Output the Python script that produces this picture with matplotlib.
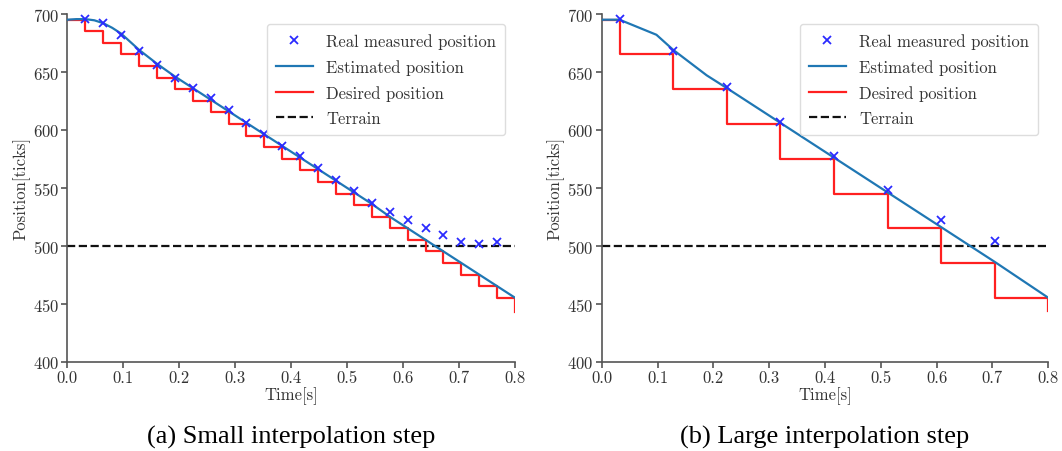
import matplotlib.pyplot as plt

plt.rcParams['font.family'] = ['cmr10', 'DejaVu Serif']
plt.rcParams['axes.formatter.use_mathtext'] = True
plt.rcParams['mathtext.fontset'] = 'cm'

# (a) small interpolation step
small_meas_t = [0.032, 0.064, 0.096, 0.128, 0.160, 0.192, 0.224, 0.256, 0.288, 0.320, 0.352, 0.384,
                0.416, 0.448, 0.480, 0.512, 0.544, 0.576, 0.608, 0.640, 0.672, 0.704, 0.736, 0.768]
small_meas_pos = [696, 692, 682, 668, 656, 645, 636, 627, 617, 606, 596, 586,
                  577, 567, 557, 547, 537, 529, 522, 515, 509, 503, 501, 503]
small_est_t = [0.0, 0.016, 0.032, 0.048, 0.064, 0.080, 0.096, 0.112, 0.128, 0.160, 0.192, 0.224, 0.256,
               0.288, 0.320, 0.352, 0.384, 0.416, 0.448, 0.480, 0.512, 0.544, 0.576, 0.608,
               0.640, 0.672, 0.704, 0.736, 0.768, 0.800]
small_est_pos = [695, 695.5, 695.5, 694.5, 692, 688, 683, 676, 669, 657, 646, 636, 626,
                 616, 606, 596, 586, 576, 566, 556, 546, 536, 525, 515,
                 505, 495, 485, 475, 465, 455]
small_des_t = [0.0, 0.032, 0.064, 0.096, 0.128, 0.160, 0.192, 0.224, 0.256, 0.288, 0.320, 0.352, 0.384,
               0.416, 0.448, 0.480, 0.512, 0.544, 0.576, 0.608, 0.640, 0.672, 0.704, 0.736, 0.768, 0.800]
small_des_pos = [695, 685, 675, 665, 655, 645, 635, 625, 615, 605, 595, 585, 575,
                 565, 555, 545, 535, 525, 515, 505, 495, 485, 475, 465, 455, 443]

# (b) large interpolation step
large_meas_t = [0.032, 0.128, 0.224, 0.320, 0.416, 0.512, 0.608, 0.704]
large_meas_pos = [696, 668, 637, 607, 577, 548, 522, 504]
large_est_t = [0.0, 0.032, 0.098, 0.128, 0.188, 0.224, 0.320, 0.416, 0.512, 0.608, 0.704, 0.800]
large_est_pos = [695, 695, 682, 669, 647, 636, 606, 576, 546, 516, 486, 455]
large_des_t = [0.0, 0.032, 0.128, 0.224, 0.320, 0.416, 0.512, 0.608, 0.704, 0.800]
large_des_pos = [695, 665, 635, 605, 575, 545, 515, 485, 455, 444]

terrain = 500

fig = plt.figure(figsize=(10.62, 4.52), dpi=100)
ax1 = fig.add_axes([0.0635, 0.198, 0.4215, 0.769])
ax2 = fig.add_axes([0.5666, 0.198, 0.4205, 0.769])

panels = [
    (ax1, small_meas_t, small_meas_pos, small_est_t, small_est_pos, small_des_t, small_des_pos,
     '(a) Small interpolation step'),
    (ax2, large_meas_t, large_meas_pos, large_est_t, large_est_pos, large_des_t, large_des_pos,
     '(b) Large interpolation step'),
]

for ax, mt, mp, et, ep, dt, dp, caption in panels:
    ax.plot(mt, mp, 'x', color='#2a2aff', markersize=6, mew=1.3, label='Real measured position', zorder=4)
    ax.plot(et, ep, '-', color='#1f77b4', lw=1.6, label='Estimated position', zorder=3)
    ax.step(dt, dp, where='post', color='#ff2020', lw=1.6, label='Desired position', zorder=2)
    ax.axhline(terrain, xmin=0, xmax=1, color='#111111', ls='--', lw=1.6, label='Terrain', zorder=1)
    ax.set_xlim(0, 0.8)
    ax.set_ylim(400, 700)
    ax.set_xticks([0.0, 0.1, 0.2, 0.3, 0.4, 0.5, 0.6, 0.7, 0.8])
    ax.set_yticks([400, 450, 500, 550, 600, 650, 700])
    ax.set_xticklabels(['0.0', '0.1', '0.2', '0.3', '0.4', '0.5', '0.6', '0.7', '0.8'])
    for s in ['top', 'right']:
        ax.spines[s].set_visible(False)
    for s in ['left', 'bottom']:
        ax.spines[s].set_color('#555555')
        ax.spines[s].set_linewidth(1.2)
    ax.tick_params(colors='#555555', labelcolor='#333333', labelsize=12, length=4, width=1.2, pad=2)
    ax.set_xlabel('Time[s]', fontsize=12, color='#333333', labelpad=1)
    ax.set_ylabel('Position[ticks]', fontsize=12, color='#333333', labelpad=2)
    leg = ax.legend(loc='upper right', fontsize=12, handlelength=2.2, labelspacing=0.6,
                    borderpad=0.55, framealpha=1, edgecolor='#dddddd', fancybox=True,
                    borderaxespad=0.6)
    for t in leg.get_texts():
        t.set_color('#333333')
    ax.text(0.5, -0.216, caption, transform=ax.transAxes, ha='center', va='center',
            fontsize=19, family='Liberation Serif', color='black')

fig.savefig('out.png', dpi=100)
